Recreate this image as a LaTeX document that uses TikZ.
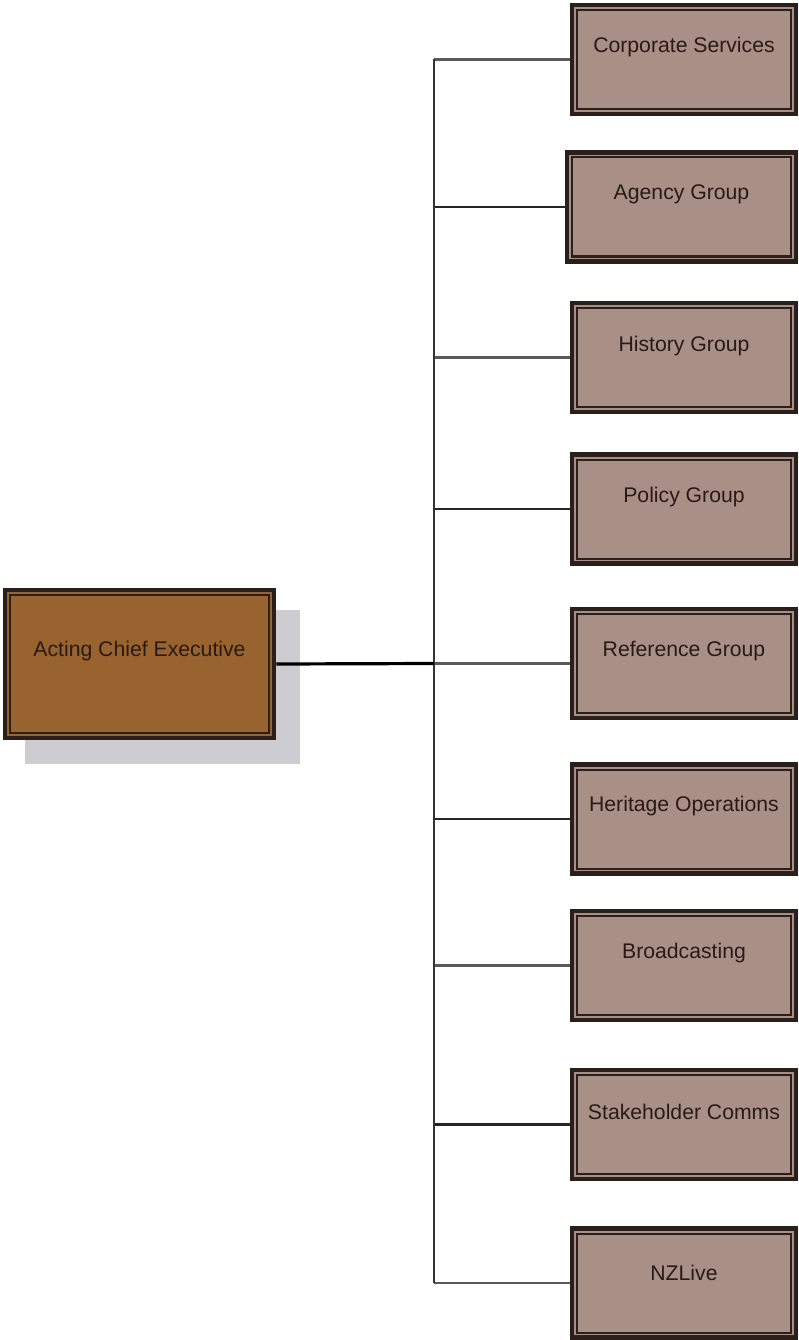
\documentclass[tikz,border=0pt]{standalone}
\usepackage{fontspec}
\setmainfont{Liberation Sans}
\begin{document}
\begin{tikzpicture}[x=1pt,y=-1pt,
  unitbox/.style={draw=boxline, line width=4.5pt, fill=unitfill, minimum width=224pt, minimum height=109pt, inner sep=0pt,
    path picture={\draw[boxline, line width=2pt] ([shift={(5pt,-5pt)}]path picture bounding box.north west) rectangle ([shift={(-5pt,5pt)}]path picture bounding box.south east);}},
  headbox/.style={unitbox, fill=headfill, minimum width=269pt, minimum height=148pt},
  txt/.style={font=\fontsize{21.2}{25}\selectfont, text=txtcol, inner sep=0pt},
  branch/.style={line width=2.1pt, draw=linegrey},
  branchdark/.style={line width=2.1pt, draw=black!85},
]
\definecolor{boxline}{HTML}{2A1F1B}
\definecolor{unitfill}{HTML}{A99087}
\definecolor{headfill}{HTML}{99632F}
\definecolor{txtcol}{HTML}{2A1A14}
\definecolor{linegrey}{HTML}{5A5A5A}
\definecolor{shadowcol}{HTML}{CDCDD1}
\useasboundingbox (0,0) rectangle (799,1340);
\fill[white] (0,0) rectangle (799,1340);

% shadow of head box
\fill[shadowcol] (25,610) rectangle (300,764);
\node[headbox] (ace) at (139.5,664) {};
\node[txt] (acet) at ([yshift=12.5pt]ace.center) {Acting Chief Executive};

\node[unitbox] (u1) at (684,59.5) {};
\node[unitbox, minimum width=229pt] (u2) at (681.5,207) {};
\node[unitbox] (u3) at (684,357.5) {};
\node[unitbox] (u4) at (684,509) {};
\node[unitbox] (u5) at (684,663.5) {};
\node[unitbox] (u6) at (684,819) {};
\node[unitbox] (u7) at (684,965.5) {};
\node[unitbox] (u8) at (684,1124.5) {};
\node[unitbox] (u9) at (684,1283) {};

\node[txt] (t1l) at ([yshift=12pt]u1.center) {Corporate Services};
\node[txt] (t2l) at ([yshift=12.5pt]u2.center) {Agency Group};
\node[txt] (t3l) at ([yshift=11.5pt]u3.center) {History Group};
\node[txt] (t4l) at ([yshift=11.5pt]u4.center) {Policy Group};
\node[txt] (t5l) at ([yshift=12.5pt]u5.center) {Reference Group};
\node[txt] (t6l) at ([yshift=12.5pt]u6.center) {Heritage Operations};
\node[txt] (t7l) at ([yshift=12.5pt]u7.center) {Broadcasting};
\node[txt] (t8l) at ([yshift=12.5pt]u8.center) {Stakeholder Comms};
\node[txt] (t9l) at ([yshift=10.5pt]u9.center) {NZLive};

\coordinate (k1) at (434,59.5);
\coordinate (k2) at (434,207);
\coordinate (k3) at (434,357.5);
\coordinate (k4) at (434,509);
\coordinate (k5) at (434,663.5);
\coordinate (k6) at (434,819);
\coordinate (k7) at (434,965.5);
\coordinate (k8) at (434,1124.5);
\coordinate (k9) at (434,1283);

\draw[branch] (k1) -- (u1.west);
\draw[branchdark] (k2) -- (u2.west);
\draw[branch] (k3) -- (u3.west);
\draw[branchdark] (k4) -- (u4.west);
\draw[branch] (k5) -- (u5.west);
\draw[branchdark] (k6) -- (u6.west);
\draw[branch] (k7) -- (u7.west);
\draw[branchdark] (k8) -- (u8.west);
\draw[branch] (k9) -- (u9.west);
\draw[line width=2.3pt, draw=black!80] (k1) -- (k9);
\draw[line width=3.2pt, draw=black] (ace.east) -- (k5);
\end{tikzpicture}
\end{document}
